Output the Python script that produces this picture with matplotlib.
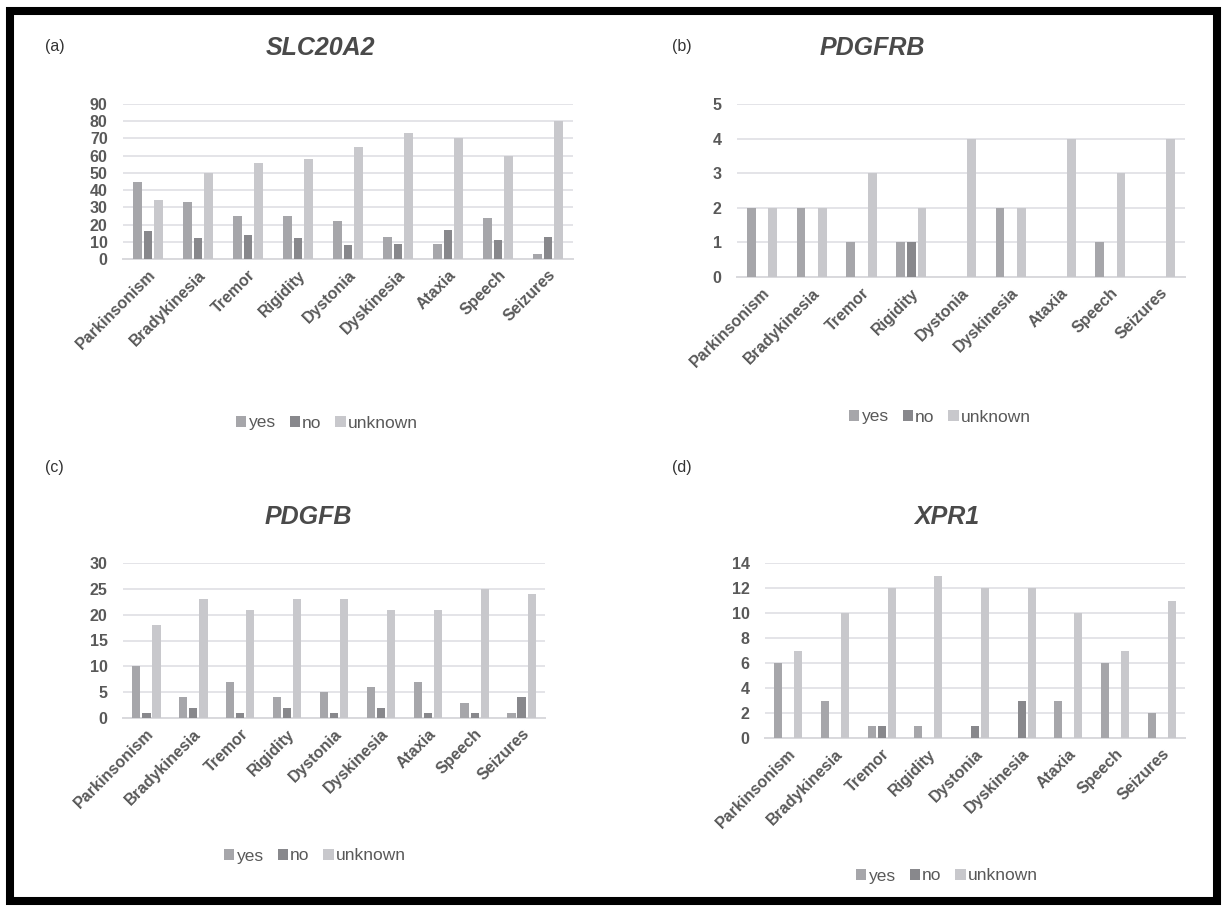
import matplotlib
matplotlib.use("Agg")
import matplotlib.pyplot as plt
from matplotlib.patches import Patch, Rectangle
import numpy as np

plt.rcParams['font.family'] = ['Liberation Sans', 'DejaVu Sans']

categories = ["Parkinsonism", "Bradykinesia", "Tremor", "Rigidity", "Dystonia",
              "Dyskinesia", "Ataxia", "Speech", "Seizures"]
series_names = ["yes", "no", "unknown"]

slc_yes = [45, 33, 25, 25, 22, 13, 9, 24, 3]
slc_no = [16, 12, 14, 12, 8, 9, 17, 11, 13]
slc_unknown = [34, 50, 56, 58, 65, 73, 70, 60, 80]

pdgfrb_yes = [2, 2, 1, 1, 0, 2, 0, 1, 0]
pdgfrb_no = [0, 0, 0, 1, 0, 0, 0, 0, 0]
pdgfrb_unknown = [2, 2, 3, 2, 4, 2, 4, 3, 4]

pdgfb_yes = [10, 4, 7, 4, 5, 6, 7, 3, 1]
pdgfb_no = [1, 2, 1, 2, 1, 2, 1, 1, 4]
pdgfb_unknown = [18, 23, 21, 23, 23, 21, 21, 25, 24]

xpr1_yes = [6, 3, 1, 1, 0, 0, 3, 6, 2]
xpr1_no = [0, 0, 1, 0, 1, 3, 0, 0, 0]
xpr1_unknown = [7, 10, 12, 13, 12, 12, 10, 7, 11]

W, H = 1227, 909
fig = plt.figure(figsize=(W / 100, H / 100), dpi=100)
fig.patch.set_facecolor('white')

colors = ['#a6a6aa', '#88888c', '#c8c8cc']
tick_color = '#595959'
grid_color = '#e4e4e8'


def rect(x0, y0, x1, y1):
    return [x0 / W, 1 - y1 / H, (x1 - x0) / W, (y1 - y0) / H]


def panel(box, title, label, label_xy, title_xy, legend_xy, data, ymax, ystep):
    ax = fig.add_axes(rect(*box))
    x = np.arange(len(categories))
    offs = [-0.215, 0.0, 0.215]
    for vals, off, c in zip(data, offs, colors):
        ax.bar(x + off, vals, width=0.175, color=c, zorder=3)
    ax.set_xlim(-0.5, len(categories) - 0.5)
    ax.set_ylim(0, ymax)
    ax.set_yticks(np.arange(0, ymax + 0.001, ystep))
    ax.yaxis.grid(True, color=grid_color, linewidth=1.4, zorder=0)
    ax.set_axisbelow(True)
    for s in ['top', 'right', 'left']:
        ax.spines[s].set_visible(False)
    ax.spines['bottom'].set_color('#d9d9dd')
    ax.spines['bottom'].set_linewidth(1.4)
    ax.tick_params(axis='both', length=0, colors=tick_color)
    ax.tick_params(axis='y', pad=11)
    ax.tick_params(axis='x', pad=6)
    ax.set_xticks(x)
    ax.set_xticklabels(categories, rotation=45, ha='right', va='top',
                       rotation_mode='anchor')
    for t in ax.get_xticklabels() + ax.get_yticklabels():
        t.set_fontweight('bold')
        t.set_fontsize(11.5)
        t.set_color(tick_color)
    fig.text(label_xy[0] / W, 1 - label_xy[1] / H, label, fontsize=11.5,
             color='#333333', ha='left', va='center')
    fig.text(title_xy[0] / W, 1 - title_xy[1] / H, title, fontsize=18,
             fontweight='bold', fontstyle='italic', color='#4a4a4a',
             ha='center', va='center')
    handles = [Patch(facecolor=c, edgecolor='none', label=n)
               for c, n in zip(colors, series_names)]
    fig.legend(handles=handles, loc='center',
               bbox_to_anchor=(legend_xy[0] / W, 1 - legend_xy[1] / H),
               ncol=3, frameon=False, fontsize=12.5, handlelength=0.6,
               handleheight=0.6, handletextpad=0.12, columnspacing=0.8,
               labelcolor=tick_color, borderaxespad=0, borderpad=0)
    return ax


panel((123, 104, 573, 259), "SLC20A2", "(a)", (45, 46), (320, 48), (327, 423),
      [slc_yes, slc_no, slc_unknown], 90, 10)
panel((737, 104, 1185, 277), "PDGFRB", "(b)", (672, 46), (872, 48), (940, 417),
      [pdgfrb_yes, pdgfrb_no, pdgfrb_unknown], 5, 1)
panel((123, 563, 545, 718), "PDGFB", "(c)", (45, 467), (308, 517), (315, 856),
      [pdgfb_yes, pdgfb_no, pdgfb_unknown], 30, 5)
panel((765, 563, 1185, 738), "XPR1", "(d)", (672, 467), (947, 517), (947, 876),
      [xpr1_yes, xpr1_no, xpr1_unknown], 14, 2)

fig.patches.append(Rectangle((10 / W, 1 - 901 / H), 1207 / W, 890 / H,
                             transform=fig.transFigure, fill=False,
                             edgecolor='black', linewidth=5.8, zorder=10))

fig.savefig('out.png', dpi=100, facecolor='white')
